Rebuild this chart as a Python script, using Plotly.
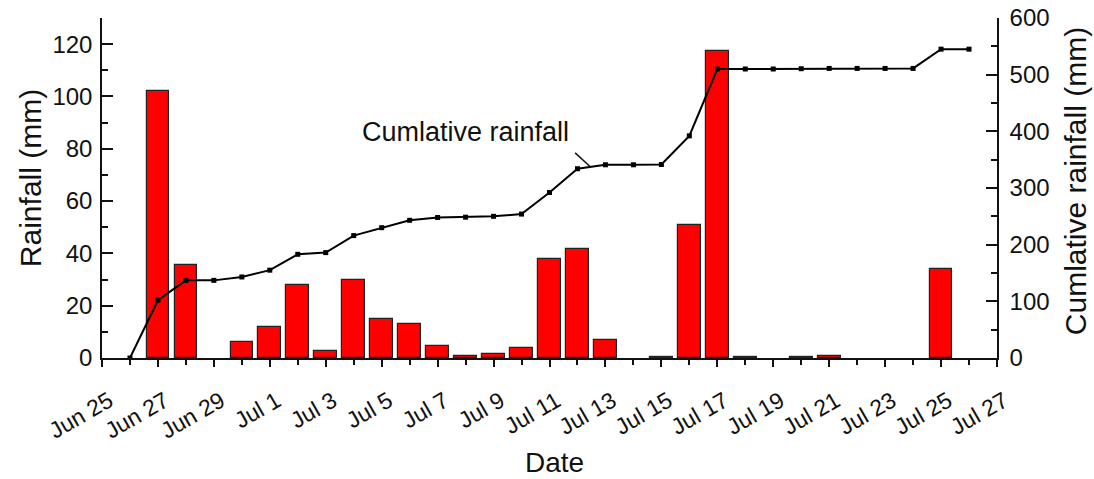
import plotly.graph_objects as go

# ---- data ----
dates = [
    "2020-06-25", "2020-06-26", "2020-06-27", "2020-06-28", "2020-06-29", "2020-06-30",
    "2020-07-01", "2020-07-02", "2020-07-03", "2020-07-04", "2020-07-05", "2020-07-06",
    "2020-07-07", "2020-07-08", "2020-07-09", "2020-07-10", "2020-07-11", "2020-07-12",
    "2020-07-13", "2020-07-14", "2020-07-15", "2020-07-16", "2020-07-17", "2020-07-18",
    "2020-07-19", "2020-07-20", "2020-07-21", "2020-07-22", "2020-07-23", "2020-07-24",
    "2020-07-25", "2020-07-26",
]
rainfall = [
    0, 0, 102, 35.5, 0, 6,
    12, 28, 2.5, 30, 15, 13,
    4.5, 0.8, 1.5, 4, 38, 41.5,
    7, 0, 0.3, 51, 117.5, 0.3,
    0, 0.2, 0.6, 0, 0, 0,
    34, 0,
]
cumulative = [
    0, 0, 102, 137, 137, 143,
    155, 183, 186, 216, 230, 243,
    248, 248.5, 250, 254, 292, 334,
    341, 341, 341.5, 392, 510, 510,
    510, 510.5, 511, 511, 511, 511,
    545, 545,
]
# first cumulative point in the reference is Jun 26
line_dates = dates[1:]
line_values = cumulative[1:]

x_range = ["2020-06-25", "2020-07-27"]
y_range = [0, 130]
y2_range = [0, 600]

left_title = "Rainfall (mm)"
right_title = "Cumlative rainfall (mm)"
x_title = "Date"
label_text = "Cumlative rainfall"

FONT = "Arial, Liberation Sans, Helvetica, sans-serif"
INK = "#111111"
DAY = 86400000

# days without rain draw no bar at all
bar_values = [v if v > 0 else None for v in rainfall]

fig = go.Figure()
fig.add_trace(go.Bar(
    x=dates, y=bar_values, width=0.81 * DAY,
    marker=dict(color="#FF0000", line=dict(color="#222222", width=1.2)),
    yaxis="y", showlegend=False,
))
fig.add_trace(go.Scatter(
    x=line_dates, y=line_values, mode="lines+markers",
    line=dict(color="black", width=2),
    marker=dict(symbol="square", size=5, color="black"),
    yaxis="y2", showlegend=False,
))

fig.update_layout(
    width=1094, height=479,
    margin=dict(l=102, r=97, t=18, b=121, autoexpand=False),
    paper_bgcolor="white", plot_bgcolor="white",
    font=dict(family=FONT, color=INK, size=24),
    bargap=0,
    xaxis=dict(
        type="date", range=x_range,
        tick0="2020-06-25", dtick=2 * DAY, tickformat="%b %-d",
        tickangle=-30, tickfont=dict(size=23), ticklabelstandoff=12, ticklabelshift=7,
        ticks="outside", ticklen=7, tickwidth=1.5, tickcolor=INK,
        minor=dict(dtick=DAY, ticks="outside", ticklen=5, tickwidth=1.5, tickcolor=INK),
        showline=True, linecolor=INK, linewidth=1.5,
        showgrid=False, zeroline=False, automargin=False,
    ),
    yaxis=dict(
        range=y_range, dtick=20, tick0=0,
        ticks="inside", ticklen=11, tickwidth=1.5, tickcolor=INK,
        minor=dict(dtick=10, ticks="inside", ticklen=6, tickwidth=1.5, tickcolor=INK),
        showline=True, linecolor=INK, linewidth=1.5, ticklabelstandoff=3,
        showgrid=False, zeroline=False, tickfont=dict(size=24), automargin=False,
    ),
    yaxis2=dict(
        range=y2_range, dtick=100, tick0=0, overlaying="y", side="right",
        ticks="inside", ticklen=11, tickwidth=1.5, tickcolor=INK,
        minor=dict(dtick=50, ticks="inside", ticklen=6, tickwidth=1.5, tickcolor=INK),
        showline=True, linecolor=INK, linewidth=1.5, ticklabelstandoff=6,
        showgrid=False, zeroline=False, tickfont=dict(size=24), automargin=False,
    ),
)

fig.add_annotation(text=x_title, xref="paper", yref="paper", x=0.506, y=0,
                   yanchor="middle", xanchor="center", yshift=-104,
                   showarrow=False, font=dict(size=28))
fig.add_annotation(text=left_title, xref="paper", yref="paper", x=0, y=0.529,
                   xanchor="center", yanchor="middle", xshift=-72, textangle=-90,
                   showarrow=False, font=dict(size=30))
fig.add_annotation(text=right_title, xref="paper", yref="paper", x=1, y=0.52,
                   xanchor="center", yanchor="middle", xshift=78, textangle=-90,
                   showarrow=False, font=dict(size=30))
fig.add_annotation(text=label_text, xref="x", yref="y2", x="2020-07-08", y=398,
                   xanchor="center", yanchor="middle",
                   showarrow=False, font=dict(size=27))
fig.add_shape(type="line", xref="x", yref="y2",
              x0="2020-07-11 22:00", y0=362, x1="2020-07-12 11:00", y1=337.6,
              line=dict(color=INK, width=1.5))

fig.write_html("out.html", config={"displayModeBar": False},
               post_script="document.body.style.margin='0';")
